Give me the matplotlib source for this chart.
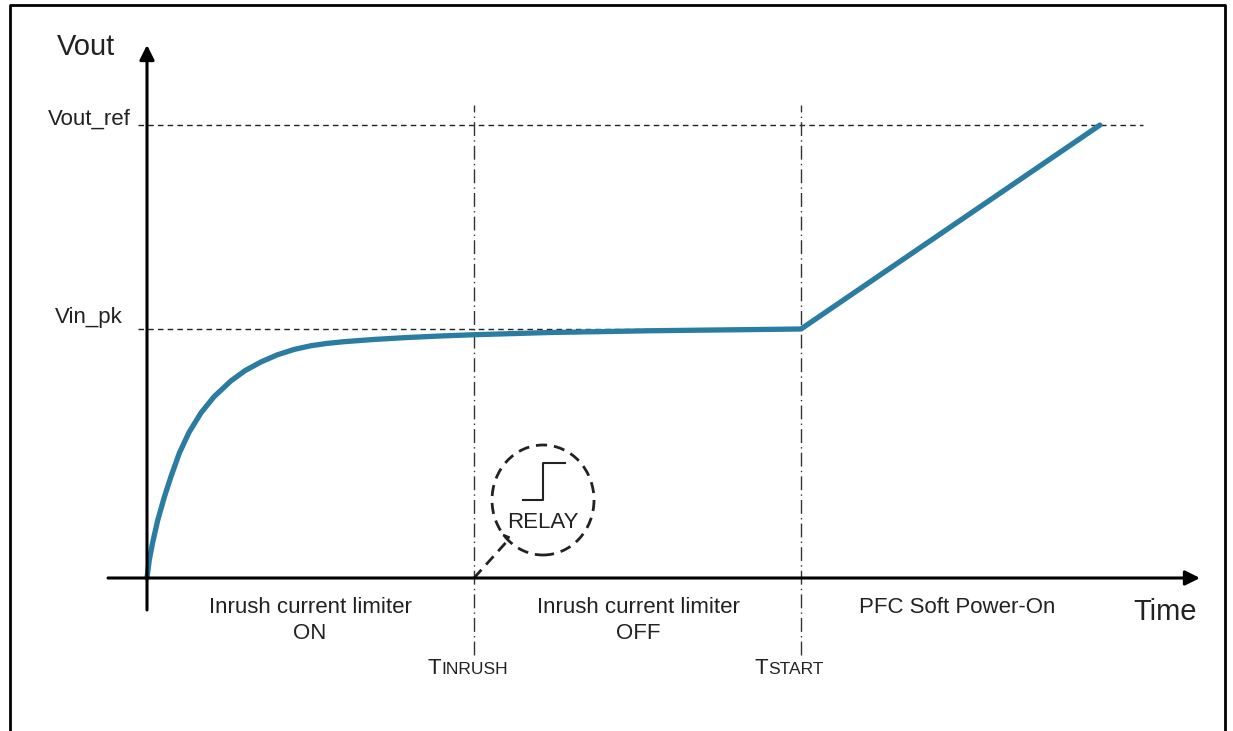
import matplotlib
matplotlib.use("Agg")
import matplotlib.pyplot as plt
from matplotlib.patches import Ellipse

plt.rcParams['font.family'] = ['Liberation Sans', 'DejaVu Sans']

# time in units of T_INRUSH, voltage in units of Vin_pk
t_inrush = 1.0
t_start = 2.0
t_end = 2.914
vin_pk = 1.0
vout_ref = 1.819

curve_t = [0.0, 0.007, 0.017, 0.033, 0.053, 0.073, 0.099, 0.129, 0.165, 0.205,
           0.257, 0.300, 0.349, 0.398, 0.450, 0.502, 0.550, 0.602, 0.694, 0.798,
           0.899, 1.0, 1.235, 1.541, 2.0, 2.914]
curve_v = [0.0, 0.072, 0.141, 0.233, 0.325, 0.406, 0.502, 0.586, 0.663, 0.728,
           0.792, 0.833, 0.868, 0.896, 0.918, 0.933, 0.942, 0.949, 0.958, 0.966,
           0.972, 0.977, 0.986, 0.993, 1.0, 1.819]

phase_labels = ["Inrush current limiter\nON", "Inrush current limiter\nOFF",
                "PFC Soft Power-On"]
phase_centers = [0.499, 1.502, 2.477]

# pixel scale of the original drawing
PX_T = 327.0
PX_V = 249.0
TXT = "#222222"

fig = plt.figure(figsize=(12.33, 7.31), dpi=100)
ax = fig.add_axes([0, 0, 1, 1])
ax.set_xlim(-147 / PX_T, (1233 - 147) / PX_T)
ax.set_ylim((578 - 731) / PX_V, 578 / PX_V)
ax.axis("off")

# frame of the page
ax.plot([0.0081, 0.0081, 0.9935, 0.9935], [0.0, 0.993, 0.993, 0.0],
        transform=ax.transAxes, color="black", lw=2, clip_on=False)

# axes with arrows
ax.annotate("", xy=(0, 533 / PX_V), xytext=(0, -32 / PX_V),
            arrowprops=dict(arrowstyle="-|>", lw=2.2, color="black",
                            mutation_scale=22, shrinkA=0, shrinkB=0))
ax.annotate("", xy=(1053 / PX_T, 0), xytext=(-39 / PX_T, 0),
            arrowprops=dict(arrowstyle="-|>", lw=2.2, color="black",
                            mutation_scale=22, shrinkA=0, shrinkB=0))

# reference levels
ax.plot([-9 / PX_T, 996 / PX_T], [vout_ref, vout_ref], color=TXT,
        lw=1, ls=(0, (4, 3)))
ax.plot([-9 / PX_T, t_start], [vin_pk, vin_pk], color=TXT,
        lw=1, ls=(0, (4, 3)))

# phase boundaries
for tb in [t_inrush, t_start]:
    ax.plot([tb, tb], [-77 / PX_V, 473 / PX_V], color="#333333", lw=1,
            ls=(0, (10, 3, 1, 3)))

# output voltage
ax.plot(curve_t, curve_v, color="#2a7ca3", lw=3.8, solid_capstyle="round",
        solid_joinstyle="round")

# labels
ax.text(-61 / PX_T, 531 / PX_V, "Vout", fontsize=21, color=TXT,
        ha="center", va="center")
ax.text(1018 / PX_T, -34 / PX_V, "Time", fontsize=21,
        color=TXT, ha="center", va="center")
ax.text(-16 / PX_T, vout_ref + 6 / PX_V, "Vout_ref", fontsize=16,
        color=TXT, ha="right", va="center")
ax.text(-24 / PX_T, vin_pk + 11 / PX_V, "Vin_pk", fontsize=16,
        color=TXT, ha="right", va="center")
for tc, lab in zip(phase_centers, phase_labels):
    ax.text(tc, -19 / PX_V, lab, fontsize=16, color=TXT,
            ha="center", va="top", linespacing=1.3)

# small-caps time markers
fig.canvas.draw()
for tb, first, rest in [(t_inrush, "T", "INRUSH"), (t_start, "T", "START")]:
    t1 = ax.text(tb - 46 / PX_T, -96 / PX_V, first, fontsize=16,
                 color=TXT, ha="left", va="baseline")
    bb = t1.get_window_extent(fig.canvas.get_renderer())
    bb = bb.transformed(ax.transData.inverted())
    ax.text(bb.x1, -96 / PX_V, rest, fontsize=12.5, color=TXT,
            ha="left", va="baseline")

# relay bubble
ax.add_patch(Ellipse((396 / PX_T, 78 / PX_V), 102 / PX_T, 110 / PX_V,
                     fill=False, ec=TXT, lw=2, ls=(0, (4, 2.5))))
ax.plot([t_inrush, 363 / PX_T, 356 / PX_T], [0, 40 / PX_V, 43 / PX_V],
        color=TXT, lw=2, ls=(0, (4, 2.5)))
ax.plot([376 / PX_T, 396 / PX_T, 396 / PX_T, 418 / PX_T],
        [78 / PX_V, 78 / PX_V, 115 / PX_V, 115 / PX_V],
        color=TXT, lw=1.5)
ax.text(396 / PX_T, 55 / PX_V, "RELAY", fontsize=16, color=TXT,
        ha="center", va="center")

fig.savefig("out.png", dpi=100)
